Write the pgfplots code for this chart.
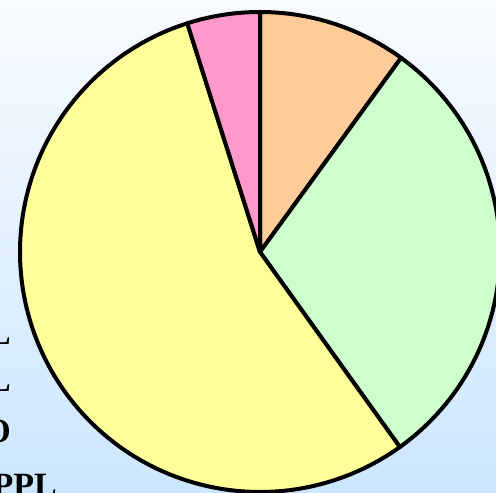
\documentclass[border=0pt]{standalone}
\usepackage{pgfplots}
\pgfplotsset{compat=1.18}
\usepackage{fontspec}
\setmainfont{Liberation Serif}
\definecolor{bgtop}{RGB}{248,251,255}
\definecolor{bgbot}{RGB}{204,230,255}
\definecolor{sOrange}{RGB}{255,204,153}
\definecolor{sGreen}{RGB}{204,255,204}
\definecolor{sYellow}{RGB}{255,255,153}
\definecolor{sPink}{RGB}{255,153,204}
% slice values (percent), clockwise from 12 o'clock
\def\vA{10}\def\vB{30.1}\def\vC{55}\def\vD{4.9}
\begin{document}
\begin{tikzpicture}
\useasboundingbox (0,0) rectangle (496bp,493bp);
\clip (0,0) rectangle (496bp,493bp);
\shade[top color=bgtop, bottom color=bgbot] (0,0) rectangle (496bp,493bp);
\pgfmathsetmacro{\aA}{90}
\pgfmathsetmacro{\aB}{\aA-3.6*\vA}
\pgfmathsetmacro{\aC}{\aB-3.6*\vB}
\pgfmathsetmacro{\aD}{\aC-3.6*\vC}
\pgfmathsetmacro{\aE}{\aD-3.6*\vD}
\begin{axis}[at={(0,0)}, anchor=south west, scale only axis,
  width=496bp, height=493bp, xmin=0, xmax=496, ymin=0, ymax=493,
  hide axis, clip=true]
\addplot[fill=sOrange, draw=black, line width=4bp, line join=round, domain=\aB:\aA, samples=60, variable=\t]
  ({260+240*cos(t)},{241+240*sin(t)}) -- (axis cs:260,241) -- cycle;
\addplot[fill=sGreen, draw=black, line width=4bp, line join=round, domain=\aC:\aB, samples=100, variable=\t]
  ({260+240*cos(t)},{241+240*sin(t)}) -- (axis cs:260,241) -- cycle;
\addplot[fill=sYellow, draw=black, line width=4bp, line join=round, domain=\aD:\aC, samples=160, variable=\t]
  ({260+240*cos(t)},{241+240*sin(t)}) -- (axis cs:260,241) -- cycle;
\addplot[fill=sPink, draw=black, line width=4bp, line join=round, domain=\aE:\aD, samples=30, variable=\t]
  ({260+240*cos(t)},{241+240*sin(t)}) -- (axis cs:260,241) -- cycle;
\end{axis}
\begin{scope}[every node/.style={font=\fontsize{34bp}{36bp}\selectfont\bfseries, inner sep=0pt, anchor=base east}]
\node at (11bp,148bp) {L};
\node at (11bp,101bp) {L};
\node at (11bp,50bp) {O};
\node at (57bp,-3bp) {PPL};
\end{scope}
\end{tikzpicture}
\end{document}
